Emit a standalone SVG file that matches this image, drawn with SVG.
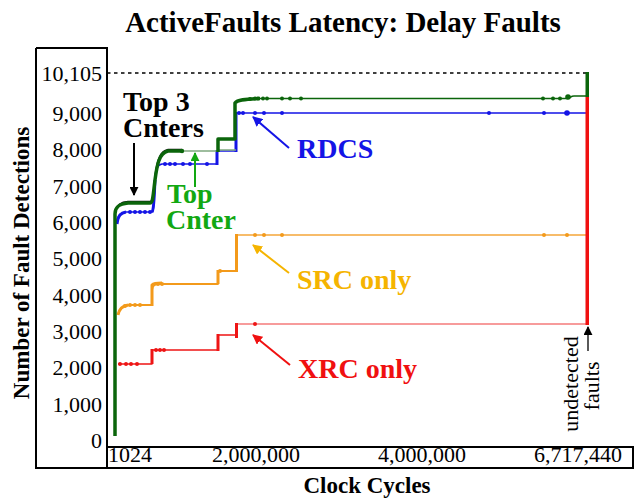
<svg xmlns="http://www.w3.org/2000/svg" width="634" height="499" viewBox="0 0 634 499">
<style>
text{font-family:"Liberation Serif","Times New Roman",serif}
.t{font-weight:bold;font-size:29px;text-anchor:middle}
.ax{font-weight:bold;font-size:23px;text-anchor:middle}
.yl{font-size:22px;text-anchor:end}
.xl{font-size:22px;text-anchor:middle}
.lab{font-weight:bold;font-size:28px}
.frame{stroke:#000;stroke-width:2;fill:none}
.ln{fill:none;stroke-linejoin:round;stroke-linecap:butt}
</style>
<defs>
<marker id="ak" viewBox="0 0 10 10" refX="9" refY="5" markerWidth="9" markerHeight="9" markerUnits="userSpaceOnUse" orient="auto"><path d="M0,0 L10,5 L0,10 z" fill="#000"/></marker>
<marker id="ag" viewBox="0 0 10 10" refX="9" refY="5" markerWidth="9" markerHeight="9" markerUnits="userSpaceOnUse" orient="auto"><path d="M0,0 L10,5 L0,10 z" fill="#12a812"/></marker>
<marker id="ab" viewBox="0 0 10 10" refX="9" refY="5" markerWidth="10" markerHeight="10" markerUnits="userSpaceOnUse" orient="auto"><path d="M0,0 L10,5 L0,10 z" fill="#1414e6"/></marker>
<marker id="ao" viewBox="0 0 10 10" refX="9" refY="5" markerWidth="10" markerHeight="10" markerUnits="userSpaceOnUse" orient="auto"><path d="M0,0 L10,5 L0,10 z" fill="#f5b400"/></marker>
<marker id="ar" viewBox="0 0 10 10" refX="9" refY="5" markerWidth="10" markerHeight="10" markerUnits="userSpaceOnUse" orient="auto"><path d="M0,0 L10,5 L0,10 z" fill="#f01010"/></marker>
</defs>
<rect width="634" height="499" fill="#fff"/>
<text class="t" x="343" y="32">ActiveFaults Latency: Delay Faults</text>
<g id="frame">
<path class="frame" d="M36,48 H107 V468 M36,48 V468 H633 V447 H107"/>
</g>
<g id="yaxis">
<text class="ax" transform="translate(29,263) rotate(-90)" font-size="24">Number of Fault Detections</text>
<text class="yl" x="102" y="81">10,105</text>
<text class="yl" x="102" y="121">9,000</text>
<text class="yl" x="102" y="157">8,000</text>
<text class="yl" x="102" y="194">7,000</text>
<text class="yl" x="102" y="230">6,000</text>
<text class="yl" x="102" y="266">5,000</text>
<text class="yl" x="102" y="303">4,000</text>
<text class="yl" x="102" y="339">3,000</text>
<text class="yl" x="102" y="375">2,000</text>
<text class="yl" x="102" y="412">1,000</text>
<text class="yl" x="102" y="448">0</text>
</g>
<g id="xaxis">
<text class="xl" x="108" y="462" style="text-anchor:start">1024</text>
<text class="xl" x="256" y="462">2,000,000</text>
<text class="xl" x="422" y="462">4,000,000</text>
<text class="xl" x="578" y="462">6,717,440</text>
<text class="ax" x="367" y="493">Clock Cycles</text>
</g>
<g id="series">
<path d="M107,73 H587" stroke="#000" stroke-width="1.6" stroke-dasharray="3.5,3.5" fill="none"/>
<g id="xrc">
<path class="ln" d="M118,364 H152 V350 H218 V335 H236.5" stroke="#ee1515" stroke-width="1.5"/>
<path class="ln" d="M236.5,324 H587" stroke="#f47a7a" stroke-width="1.5"/>
<path class="ln" d="M218,351 V334 M236.5,338 V323 M152,364 V349" stroke="#ee1515" stroke-width="3"/>
<g fill="#ee1515"><circle cx="120" cy="364" r="2"/><circle cx="126" cy="364" r="2"/><circle cx="131" cy="364" r="2"/><circle cx="137" cy="364" r="2"/><circle cx="156" cy="350" r="2"/><circle cx="160" cy="350" r="2"/><circle cx="164" cy="350" r="2"/><circle cx="255" cy="324" r="2"/></g>
</g>
<g id="src">
<path class="ln" d="M118,314 C120,307 124,305 131,305 H152 V290 C153,285 155,284 160,284 H218 V271 H236.5" stroke="#f39a1b" stroke-width="1.8"/>
<path class="ln" d="M236.5,271 V235 H587" stroke="#f5a73a" stroke-width="1.6"/>
<path class="ln" d="M118,315 C119,309 122,306 128,305 M152,306 V285 C154,283 157,283 162,283 M218,284 V270 M236.5,272 V234" stroke="#f39a1b" stroke-width="3"/>
<g fill="#f39a1b"><circle cx="125" cy="306" r="2"/><circle cx="130" cy="305" r="2"/><circle cx="135" cy="305" r="2"/><circle cx="140" cy="305" r="2"/><circle cx="158" cy="284" r="2"/><circle cx="162" cy="284" r="2"/><circle cx="220" cy="271" r="2"/><circle cx="255" cy="235" r="2"/><circle cx="264" cy="235" r="2"/><circle cx="282" cy="235" r="2"/><circle cx="544" cy="235" r="2"/><circle cx="567" cy="235" r="2"/></g>
</g>
<g id="rdcs">
<path class="ln" d="M117,222 C118,214 121,213 126,212 H152 C154,212 154,200 155,180 C156,168 157,165 162,164 H217 V151 H236 V113 H587" stroke="#1414e6" stroke-width="1.6"/>
<path class="ln" d="M117,224 C118,215 121,213 126,212 M152,212 C154,210 154,200 155,180 M217,165 V150 M236,152 V112" stroke="#1414e6" stroke-width="3"/>
<g fill="#1414e6"><circle cx="130" cy="212" r="2"/><circle cx="135" cy="212" r="2"/><circle cx="140" cy="212" r="2"/><circle cx="145" cy="212" r="2"/><circle cx="150" cy="212" r="2"/><circle cx="165" cy="164" r="2"/><circle cx="170" cy="164" r="2"/><circle cx="175" cy="164" r="2"/><circle cx="183" cy="164" r="2"/><circle cx="190" cy="164" r="2"/><circle cx="207" cy="164" r="2"/><circle cx="239" cy="113" r="2"/><circle cx="243" cy="113" r="2"/><circle cx="255" cy="113" r="2"/><circle cx="264" cy="113" r="2"/><circle cx="282" cy="113" r="2"/><circle cx="489" cy="113" r="2"/><circle cx="544" cy="113" r="2"/><circle cx="567" cy="113" r="2.8"/></g>
</g>
<path class="ln" d="M183,151 H218 M218,150 H236" stroke="#7fa87f" stroke-width="1.5"/>
<path class="ln" d="M116,210 C117,204 121,202 128,201.5 H151 C153,199 154,190 155,175 C157,160 160,151 168,149.5 H182" stroke="#111" stroke-width="1.3"/>
<g id="top3">
<path class="ln" d="M115,436 V214 C115,207 119,204 128,203 H150 C153,203 153,196 155,180 C157,165 159,153 168,151 H183" stroke="#0b650b" stroke-width="3.5"/>
<path class="ln" d="M218,151 V139 H235 V103 C237,100 245,99 260,98.5 H567 C570,98 571,96 574,96 H587" stroke="#0b650b" stroke-width="1.6"/>
<path class="ln" d="M218,152 V139 H235 V103 C237,100 245,99 260,98.5" stroke="#0b650b" stroke-width="3.5"/>
<g fill="#0b650b"><circle cx="182" cy="151" r="2.2"/><circle cx="250" cy="99" r="2"/><circle cx="255" cy="98.5" r="2"/><circle cx="258" cy="98.5" r="2"/><circle cx="263" cy="98.5" r="2"/><circle cx="267" cy="98.5" r="2"/><circle cx="282" cy="98.5" r="2"/><circle cx="290" cy="98.5" r="2"/><circle cx="301" cy="98.5" r="2"/><circle cx="543" cy="98.5" r="2"/><circle cx="553" cy="98.5" r="2"/><circle cx="560" cy="98.5" r="2"/><circle cx="568" cy="97" r="2.8"/></g>
</g>
<rect id="bar-detected" x="585.5" y="72" width="3.5" height="25" fill="#0b650b"/>
<rect id="bar-undetected" x="585.5" y="97" width="3.5" height="228" fill="#f01010"/>
</g>
<g id="labels">
<g id="lbl-top3"><text class="lab" x="123" y="111">Top 3</text><text class="lab" x="123" y="137">Cnters</text></g>
<g id="lbl-top"><text class="lab" x="167" y="203" fill="#12a812">Top</text><text class="lab" x="166" y="229" fill="#12a812">Cnter</text></g>
<g id="lbl-rdcs"><text class="lab" x="297" y="158" fill="#1414e6">RDCS</text></g>
<g id="lbl-src"><text class="lab" x="297" y="289" fill="#f5b400">SRC only</text></g>
<g id="lbl-xrc"><text class="lab" x="298" y="378" fill="#f01010">XRC only</text></g>
<g id="lbl-undet"><text transform="translate(578,384) rotate(-90)" font-size="22" text-anchor="middle">undetected</text><text transform="translate(599,386) rotate(-90)" font-size="22" text-anchor="middle">faults</text></g>
</g>
<g id="connectors" fill="none" stroke-width="2">
<path d="M134,143 V195" stroke="#000" marker-end="url(#ak)"/>
<path d="M195,187 V153" stroke="#12a812" marker-end="url(#ag)"/>
<path d="M289,148 L253,117" stroke="#1414e6" marker-end="url(#ab)"/>
<path d="M289,273 L253,245" stroke="#f5b400" marker-end="url(#ao)"/>
<path d="M290,365 L253,335" stroke="#f01010" marker-end="url(#ar)"/>
<path d="M588,351 V327" stroke="#000" stroke-width="1.3" marker-end="url(#ak)"/>
</g>
</svg>
